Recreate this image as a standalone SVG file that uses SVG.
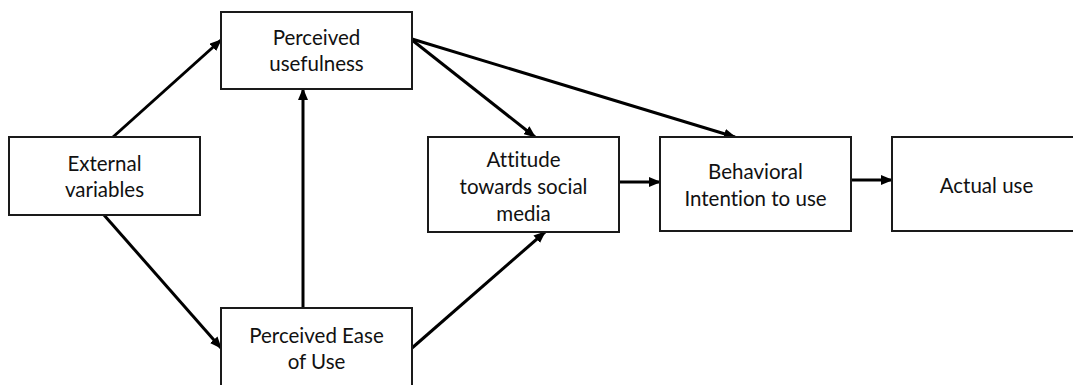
<svg xmlns="http://www.w3.org/2000/svg" width="1073" height="385" viewBox="0 0 1073 385">
<style>
.box{fill:#fff;stroke:#1a1a1a;stroke-width:2}
.lbl{font-family:Lato,"Open Sans","Liberation Sans",sans-serif;font-size:20.5px;fill:#111;text-anchor:middle;font-variant-ligatures:none}
.edge{stroke:#000;stroke-width:3;fill:none;marker-end:url(#ah)}
</style>
<defs>
<marker id="ah" markerUnits="userSpaceOnUse" markerWidth="12" markerHeight="10" viewBox="0 0 12 10" refX="11" refY="5" orient="auto">
<path d="M0,0 L12,5 L0,10 z" fill="#000"/>
</marker>
</defs>
<rect width="1073" height="385" fill="#fff"/>
<g id="connectors">
<line class="edge" x1="113" y1="137" x2="221" y2="40"/>
<line class="edge" x1="104" y1="215" x2="221" y2="348"/>
<line class="edge" x1="303" y1="308" x2="303" y2="89"/>
<line class="edge" x1="412" y1="40" x2="535" y2="137"/>
<line class="edge" x1="412" y1="39" x2="735" y2="137"/>
<line class="edge" x1="412" y1="348" x2="545" y2="232"/>
<line class="edge" x1="619" y1="182" x2="660" y2="182"/>
<line class="edge" x1="851" y1="180" x2="892" y2="180"/>
</g>
<g id="perceived-usefulness">
<rect class="box" x="221" y="12" width="191" height="77"/>
<text class="lbl" x="316.5" y="45">Perceived</text>
<text class="lbl" x="316.5" y="71">usefulness</text>
</g>
<g id="external-variables">
<rect class="box" x="9" y="137" width="191" height="78"/>
<text class="lbl" x="104.5" y="171">External</text>
<text class="lbl" x="104.5" y="197">variables</text>
</g>
<g id="perceived-ease-of-use">
<rect class="box" x="221" y="308" width="191" height="80"/>
<text class="lbl" x="316.5" y="343">Perceived Ease</text>
<text class="lbl" x="316.5" y="369">of Use</text>
</g>
<g id="attitude">
<rect class="box" x="428" y="137" width="191" height="95"/>
<text class="lbl" x="523.5" y="167">Attitude</text>
<text class="lbl" x="523.5" y="194">towards social</text>
<text class="lbl" x="523.5" y="221">media</text>
</g>
<g id="behavioral-intention">
<rect class="box" x="660" y="137" width="191" height="94"/>
<text class="lbl" x="755.5" y="179">Behavioral</text>
<text class="lbl" x="755.5" y="206">Intention to use</text>
</g>
<g id="actual-use">
<rect class="box" x="892" y="137" width="200" height="94"/>
<text class="lbl" x="986.5" y="193">Actual use</text>
</g>
</svg>
